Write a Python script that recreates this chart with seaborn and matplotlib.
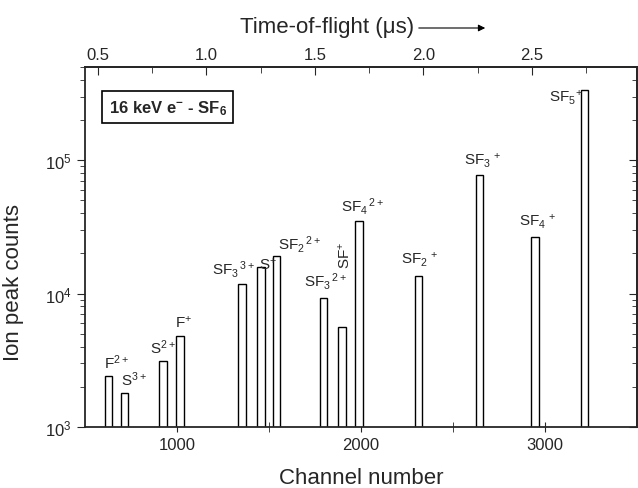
import numpy as np
import pandas as pd
import matplotlib
matplotlib.use("Agg")
import matplotlib.pyplot as plt
import seaborn as sns
from matplotlib.ticker import FixedLocator, LogLocator, NullFormatter

# peak data
ions = ["F2+", "S3+", "S2+", "F+", "SF3 3+", "S+", "SF2 2+", "SF3 2+", "SF+",
        "SF4 2+", "SF2+", "SF3+", "SF4+", "SF5+"]
channel = [629, 715, 923, 1017, 1353, 1458, 1542, 1798, 1898, 1989, 2313, 2646, 2946, 3216]
counts = [2400, 1800, 3100, 4800, 11700, 15900, 19200, 9300, 5600, 35000, 13600,
          77600, 26400, 338000]

# peak labels: text, channel, counts
label_text = ["F$^{2+}$", "S$^{3+}$", "S$^{2+}$", "F$^{+}$", "SF$_3$$^{\\,3+}$", "S$^{+}$",
              "SF$_2$$^{\\,2+}$", "SF$_3$$^{\\,2+}$", "SF$_4$$^{\\,2+}$", "SF$_2$$^{\\,+}$",
              "SF$_3$$^{\\,+}$", "SF$_4$$^{\\,+}$", "SF$_5$$^{+}$"]
label_x = [603, 696, 853, 989, 1192, 1447, 1549, 1690, 1891, 2217, 2560, 2859, 3022]
label_y = [2780, 2070, 3600, 5680, 14100, 15300, 21700, 11500, 42000, 16800, 93000,
           32700, 276000]

tof_ticks = [0.5, 1.0, 1.5, 2.0, 2.5]
tof_minor = [0.75, 1.25, 1.75, 2.25, 2.75]

df = pd.DataFrame({"ion": ions, "channel": channel, "counts": counts})

sns.set_style("ticks")
plt.rcParams["font.family"] = ["Liberation Sans", "DejaVu Sans"]
plt.rcParams["mathtext.fontset"] = "custom"
plt.rcParams["mathtext.rm"] = "Liberation Sans"
plt.rcParams["mathtext.it"] = "Liberation Sans"
plt.rcParams["mathtext.bf"] = "Liberation Sans:bold"

fig = plt.figure(figsize=(6.38, 4.89), dpi=100)
ax = fig.add_axes([0.133, 0.125, 0.865, 0.736])

min_gap = np.min(np.diff(np.sort(channel)))
sns.barplot(data=df, x="channel", y="counts", native_scale=True, width=42 / min_gap,
            color="white", edgecolor="black", linewidth=1.0, saturation=1,
            errorbar=None, ax=ax)
ax.set_yscale("log")
ax.set_xlim(500, 3500)
ax.set_ylim(1e3, 5e5)

for t, x, y in zip(label_text, label_x, label_y):
    ax.text(x, y, t, fontsize=11, ha="left", va="baseline")
ax.text(1913, 19600, "SF$^{+}$", fontsize=11, rotation=90, ha="center", va="center")

ax.text(0.043, 0.888, "16 keV e$^{\\mathbf{-}}$ - SF$_{\\mathbf{6}}$", transform=ax.transAxes,
        fontsize=12, fontweight="bold", va="center", ha="left",
        bbox=dict(boxstyle="square,pad=0.4", fc="white", ec="black", lw=1.2))

ax.xaxis.set_major_locator(FixedLocator([1000, 2000, 3000]))
ax.xaxis.set_minor_locator(FixedLocator([1500, 2500]))
ax.tick_params(axis="x", which="both", direction="inout", labelsize=12, top=False, length=7)
ax.yaxis.set_major_locator(LogLocator(base=10))
ax.yaxis.set_minor_locator(LogLocator(base=10, subs=np.arange(2, 10)))
ax.yaxis.set_minor_formatter(NullFormatter())
ax.tick_params(axis="y", which="both", direction="out", labelsize=12, right=False)
ax.tick_params(axis="y", which="major", length=6)
ax.tick_params(axis="y", which="minor", length=3.5)

ax.set_xlabel("Channel number", fontsize=16)
ax.xaxis.set_label_coords(0.5, -0.112)
ax.set_ylabel("Ion peak counts", fontsize=16)
ax.yaxis.set_label_coords(-0.11, 0.405)

secx = ax.secondary_xaxis("top", functions=(lambda c: (c + 20) / 1180.0,
                                             lambda t: t * 1180.0 - 20))
secx.xaxis.set_major_locator(FixedLocator(tof_ticks))
secx.xaxis.set_minor_locator(FixedLocator(tof_minor))
secx.tick_params(axis="x", which="both", direction="in", labelsize=12)
secx.tick_params(axis="x", which="major", length=6)
secx.tick_params(axis="x", which="minor", length=4)

secy = ax.secondary_yaxis("right")
secy.tick_params(axis="y", which="both", direction="in", labelright=False)
secy.tick_params(axis="y", which="major", length=6)
secy.tick_params(axis="y", which="minor", length=3.5)

for s in ax.spines.values():
    s.set_linewidth(1.3)
    s.set_visible(True)
secx.spines["top"].set_linewidth(1.3)
secy.spines["right"].set_linewidth(1.3)

fig.text(240 / 638, 1 - 28 / 489, "Time-of-flight (μs)", fontsize=16, ha="left", va="center")
fig.patches.append(matplotlib.patches.FancyArrowPatch(
    (416 / 638, 1 - 29 / 489), (488 / 638, 1 - 29 / 489), transform=fig.transFigure,
    arrowstyle="-|>,head_length=4,head_width=2", color="black", lw=0.8))

fig.savefig("out.png", dpi=100)
